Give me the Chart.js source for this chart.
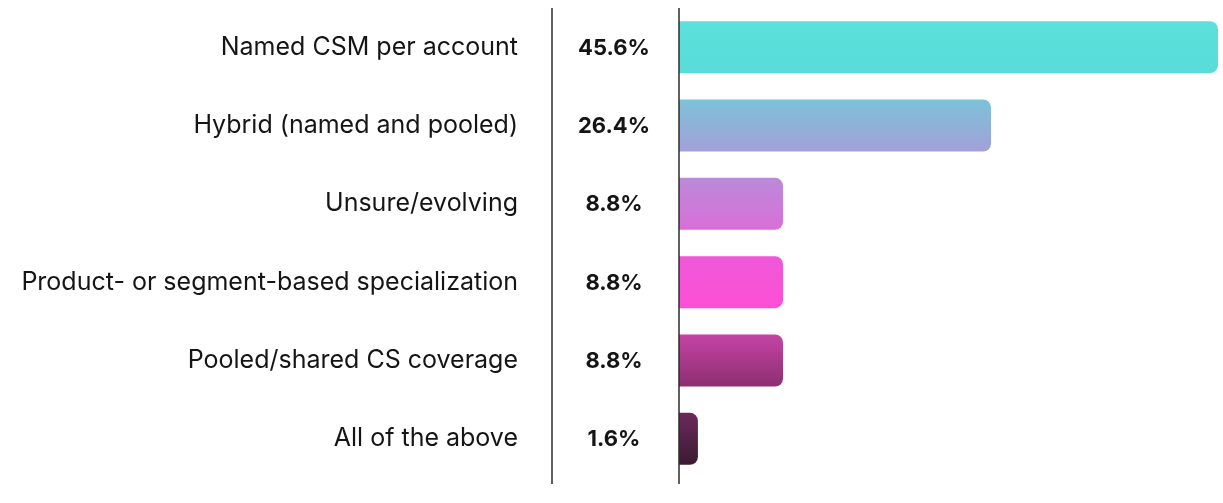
<!DOCTYPE html>
<html>
<head>
<meta charset="utf-8">
<script src="https://cdn.jsdelivr.net/npm/chart.js@4"></script>
<style>
  html, body { margin: 0; padding: 0; background: #fff; }
  #wrap { width: 1223px; height: 503px; position: relative; }
</style>
</head>
<body>
<div id="wrap"><canvas id="chartCanvas"></canvas></div>
<script>
const categories = [
    "Named CSM per account",
    "Hybrid (named and pooled)",
    "Unsure/evolving",
    "Product- or segment-based specialization",
    "Pooled/shared CS coverage",
    "All of the above"
];
const shares = [45.6, 26.4, 8.8, 8.8, 8.8, 1.6];
const shareLabels = ["45.6%", "26.4%", "8.8%", "8.8%", "8.8%", "1.6%"];
// top / bottom colour of each bar
const topColors = ["#5be0dc", "#7cc2d9", "#bb8ad8", "#ef58d8", "#c444a4", "#6a2a5c"];
const bottomColors = ["#59dcd9", "#a3a0d8", "#da6ed8", "#fd4fd6", "#8d2f70", "#3b1a32"];

const FONT = "Inter, 'Open Sans', sans-serif";
const BAR_PCT = 0.82;
const CAT_PCT = 0.81;

const extras = {
    id: "extras",
    afterDraw(chart) {
        const ctx = chart.ctx;
        const area = chart.chartArea;
        const y = chart.scales.y;
        ctx.save();
        // divider between names and values, and the axis line
        ctx.strokeStyle = "#2b2b2b";
        ctx.lineWidth = 1.5;
        [552, area.left].forEach(x => {
            ctx.beginPath();
            ctx.moveTo(x, area.top);
            ctx.lineTo(x, area.bottom + 6);
            ctx.stroke();
        });
        // value column
        ctx.fillStyle = "#151515";
        ctx.font = "bold 22px " + FONT;
        ctx.textAlign = "center";
        ctx.textBaseline = "middle";
        shareLabels.forEach((t, i) => {
            ctx.fillText(t, 614, y.getPixelForValue(i) + 1);
        });
        ctx.restore();
    }
};

const ctx = document.getElementById("chartCanvas").getContext("2d");

new Chart(ctx, {
    type: "bar",
    data: {
        labels: categories,
        datasets: [{
            data: shares,
            backgroundColor: function (c) {
                const i = c.dataIndex;
                const y = c.chart.scales.y;
                if (!c.chart.chartArea || !y) return topColors[i];
                const mid = y.getPixelForValue(i);
                const half = (y.height / categories.length) * BAR_PCT * CAT_PCT / 2;
                if (!Number.isFinite(mid) || !Number.isFinite(half)) return topColors[i];
                const g = c.chart.ctx.createLinearGradient(0, mid - half, 0, mid + half);
                g.addColorStop(0, topColors[i]);
                g.addColorStop(1, bottomColors[i]);
                return g;
            },
            borderRadius: 8,
            borderSkipped: "start",
            barPercentage: BAR_PCT,
            categoryPercentage: CAT_PCT
        }]
    },
    options: {
        indexAxis: "y",
        responsive: true,
        maintainAspectRatio: false,
        animation: false,
        layout: { padding: { top: 8, bottom: 25, right: 5, left: 0 } },
        plugins: {
            legend: { display: false },
            tooltip: { enabled: false }
        },
        scales: {
            x: {
                display: false,
                min: 0,
                max: 45.6
            },
            y: {
                afterFit(scale) {
                    scale.width = 679;
                    scale.paddingTop = 0;
                    scale.paddingBottom = 0;
                },
                grid: { display: false, drawTicks: false },
                border: { display: false },
                ticks: {
                    padding: 161,
                    color: "#151515",
                    font: { family: FONT, size: 25 }
                }
            }
        }
    },
    plugins: [extras]
});
</script>
</body>
</html>
